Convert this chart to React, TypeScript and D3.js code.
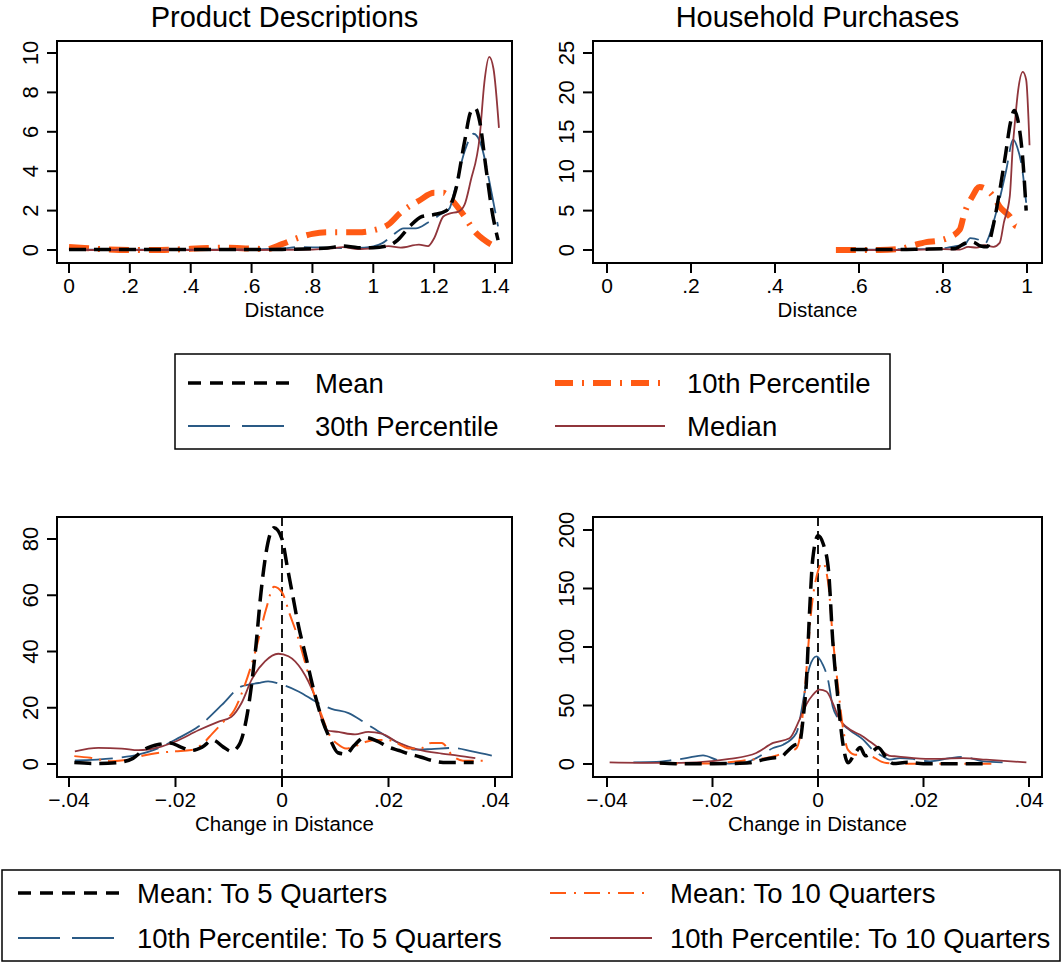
import * as d3 from "d3";

type Pt = [number, number];

// ---- top row: density of distance (x = distance, y = density)
const pdMean: Pt[] = [
  [0, 0.02], [0.2, 0.02], [0.4, 0.02], [0.6, 0.02], [0.7, 0.03], [0.8, 0.06], [0.85, 0.1],
  [0.9, 0.2], [0.95, 0.12], [1.0, 0.12], [1.05, 0.22], [1.08, 0.5], [1.12, 1.2], [1.16, 1.7],
  [1.2, 1.8], [1.24, 2.0], [1.27, 3.0], [1.3, 5.5], [1.32, 7.0], [1.335, 7.2], [1.35, 6.5],
  [1.37, 4.2], [1.39, 2.0], [1.41, 0.5],
];
const pdP10: Pt[] = [
  [0, 0.15], [0.05, 0.1], [0.1, 0.05], [0.2, 0.0], [0.3, 0.0], [0.4, 0.06], [0.5, 0.12],
  [0.58, 0.08], [0.65, 0.05], [0.7, 0.3], [0.75, 0.6], [0.8, 0.82], [0.85, 0.9], [0.9, 0.9],
  [0.95, 0.9], [1.0, 1.0], [1.05, 1.3], [1.09, 1.9], [1.15, 2.5], [1.2, 2.9], [1.23, 2.9],
  [1.26, 2.5], [1.3, 1.7], [1.33, 1.0], [1.37, 0.45], [1.41, 0.1],
];
const pdP30: Pt[] = [
  [0, 0.02], [0.2, 0.02], [0.4, 0.02], [0.6, 0.03], [0.7, 0.08], [0.76, 0.15], [0.82, 0.13],
  [0.9, 0.1], [0.97, 0.12], [1.0, 0.18], [1.03, 0.35], [1.06, 0.7], [1.1, 1.1], [1.14, 1.1],
  [1.18, 1.4], [1.22, 1.8], [1.25, 2.1], [1.27, 3.2], [1.3, 5.0], [1.33, 5.9], [1.355, 5.3],
  [1.38, 3.6], [1.395, 2.4], [1.41, 1.2],
];
const pdMedian: Pt[] = [
  [0, 0.0], [0.2, 0.0], [0.4, 0.0], [0.6, 0.0], [0.8, 0.02], [0.86, 0.08], [0.9, 0.15],
  [0.95, 0.05], [1.0, 0.1], [1.05, 0.2], [1.09, 0.12], [1.15, 0.27], [1.18, 0.2], [1.2, 0.6],
  [1.23, 1.7], [1.25, 1.85], [1.28, 1.95], [1.3, 2.3], [1.32, 3.5], [1.35, 5.8], [1.365, 8.5],
  [1.381, 9.8], [1.395, 9.2], [1.413, 6.2],
];

const hpMean: Pt[] = [
  [0.58, 0.05], [0.65, 0.05], [0.7, 0.05], [0.75, 0.1], [0.8, 0.15], [0.83, 0.2], [0.85, 0.8],
  [0.87, 1.0], [0.89, 0.5], [0.905, 0.4], [0.92, 3.2], [0.935, 7.5], [0.95, 12.5], [0.96, 16],
  [0.97, 17.7], [0.98, 16], [0.99, 11.5], [0.998, 5],
];
const hpP10: Pt[] = [
  [0.545, 0], [0.6, 0], [0.65, 0], [0.7, 0.15], [0.73, 0.6], [0.76, 1.0], [0.79, 1.2],
  [0.81, 1.5], [0.84, 2.6], [0.85, 4.5], [0.87, 6.8], [0.887, 8.0], [0.9, 7.8], [0.92, 6.8],
  [0.935, 5.5], [0.96, 4.2], [0.975, 3.0], [0.99, 3.3],
];
const hpP30: Pt[] = [
  [0.58, 0.05], [0.65, 0.05], [0.7, 0.1], [0.75, 0.1], [0.8, 0.2], [0.83, 0.5], [0.85, 0.6],
  [0.865, 1.5], [0.885, 1.3], [0.9, 0.8], [0.91, 1.8], [0.92, 3.5], [0.935, 6.5], [0.95, 10],
  [0.967, 14], [0.977, 13], [0.988, 10.5], [0.998, 6],
];
const hpMedian: Pt[] = [
  [0.58, 0], [0.65, 0], [0.7, 0], [0.75, 0.05], [0.8, 0.1], [0.84, 0.05], [0.86, 0.4],
  [0.88, 0.3], [0.9, 0.6], [0.92, 0.4], [0.935, 0.9], [0.945, 3.5], [0.959, 6.8], [0.966, 13],
  [0.971, 16.1], [0.979, 20.3], [0.99, 22.6], [0.998, 21.6], [1.006, 13.3],
];

// ---- bottom row: density of change in distance
const dpMean5: Pt[] = [
  [-0.039, 0.5], [-0.035, 0.2], [-0.031, 0.5], [-0.028, 2], [-0.026, 5], [-0.023, 7],
  [-0.021, 7.5], [-0.019, 6], [-0.017, 4.8], [-0.015, 6], [-0.013, 8.5], [-0.011, 6],
  [-0.0095, 4.5], [-0.008, 7], [-0.0065, 18], [-0.005, 40], [-0.004, 60], [-0.003, 75],
  [-0.0015, 84], [0, 80], [0.001, 70], [0.002, 60], [0.003, 50], [0.0045, 38], [0.006, 26],
  [0.0075, 16], [0.009, 9], [0.0105, 4], [0.012, 3.5], [0.0135, 6.5], [0.0155, 9.5],
  [0.018, 8], [0.02, 6], [0.022, 4.8], [0.024, 3.5], [0.026, 2.5], [0.028, 1.3],
  [0.031, 0.5], [0.034, 0.5], [0.036, 0.5],
];
const dpMean10: Pt[] = [
  [-0.039, 2.8], [-0.036, 2.2], [-0.032, 1.0], [-0.029, 1.5], [-0.026, 3], [-0.023, 4],
  [-0.02, 4.5], [-0.017, 5], [-0.015, 7], [-0.013, 11], [-0.011, 15], [-0.009, 19],
  [-0.007, 28], [-0.005, 40], [-0.003, 55], [-0.0015, 63], [0, 61], [0.0015, 53],
  [0.003, 45], [0.0045, 35], [0.006, 25], [0.0075, 17], [0.009, 10], [0.0105, 7],
  [0.012, 5.5], [0.014, 6.5], [0.016, 8], [0.018, 8.5], [0.02, 8.5], [0.022, 7],
  [0.024, 5.5], [0.026, 5.5], [0.028, 7.5], [0.03, 7.5], [0.032, 3], [0.034, 1.2],
  [0.038, 1.2],
];
const dpP10q5: Pt[] = [
  [-0.0389, 1.3], [-0.0314, 2.1], [-0.027, 3.3], [-0.0239, 5.1], [-0.0195, 9.2],
  [-0.0157, 13.3], [-0.0113, 21], [-0.0076, 27.6], [-0.0044, 28.8], [-0.0026, 29.4],
  [0, 28.2], [0.0031, 25.8], [0.0068, 21.7], [0.0093, 19.6], [0.0125, 18.1],
  [0.0156, 14.6], [0.0187, 10.9], [0.0219, 7.5], [0.025, 5.1], [0.028, 5.3],
  [0.0319, 5.7], [0.0357, 4.5], [0.0394, 3],
];
const dpP10q10: Pt[] = [
  [-0.0389, 4.5], [-0.0345, 5.7], [-0.0301, 5.5], [-0.027, 4.9], [-0.0232, 5.9],
  [-0.02, 8], [-0.0157, 12], [-0.012, 15], [-0.0095, 16.8], [-0.0076, 21.7],
  [-0.0057, 30], [-0.0032, 36.5], [-0.0007, 39.2], [0.0012, 38.3], [0.0037, 33.5],
  [0.0062, 24], [0.0084, 12], [0.0106, 11.4], [0.0137, 10.5], [0.0162, 11.4],
  [0.0187, 10.8], [0.0219, 7.5], [0.0256, 5.1], [0.03, 3.7], [0.033, 3], [0.0363, 2.1],
];

const hcMean5: Pt[] = [
  [-0.03, 0.8], [-0.027, 0.3], [-0.024, 0.3], [-0.02, 0.3], [-0.016, 0.5], [-0.013, 1],
  [-0.011, 3], [-0.009, 5], [-0.007, 6], [-0.006, 10], [-0.0045, 16], [-0.0035, 18],
  [-0.0028, 40], [-0.0022, 70], [-0.0016, 130], [-0.001, 175], [0, 195], [0.001, 188],
  [0.002, 165], [0.0028, 105], [0.0038, 55], [0.0047, 18], [0.0057, 1], [0.007, 9],
  [0.008, 14], [0.009, 7], [0.0104, 11], [0.0114, 14], [0.013, 5], [0.0142, 0.5],
  [0.017, 1.4], [0.02, 0.3], [0.025, 0.3], [0.03, 0.3], [0.032, 0.3],
];
const hcMean10: Pt[] = [
  [-0.03, 0.5], [-0.025, 0.3], [-0.02, 0.5], [-0.016, 2], [-0.013, 3.5], [-0.01, 5],
  [-0.008, 7], [-0.0065, 9.5], [-0.005, 11], [-0.004, 14], [-0.0032, 30], [-0.0022, 80],
  [-0.0013, 130], [0, 165], [0.0009, 172], [0.002, 152], [0.0028, 108], [0.0038, 66],
  [0.0047, 32], [0.0057, 12], [0.007, 8], [0.0085, 8], [0.0104, 6], [0.012, 2],
  [0.013, 0.8], [0.016, 0.3], [0.02, 0.3], [0.025, 0.3], [0.03, 0.3], [0.034, 0.3],
];
const hcP10q5: Pt[] = [
  [-0.035, 1.4], [-0.0306, 1.7], [-0.028, 3.1], [-0.025, 5], [-0.0218, 7.4],
  [-0.0193, 3.7], [-0.0167, 0.3], [-0.0142, 0.9], [-0.0117, 5], [-0.0085, 13.7],
  [-0.0066, 16.5], [-0.0041, 26.5], [-0.0025, 62], [-0.0016, 83], [-0.0003, 92],
  [0.0009, 85], [0.0019, 72], [0.0028, 49], [0.0038, 39], [0.006, 29], [0.0085, 21],
  [0.0104, 12], [0.0123, 6.5], [0.0136, 3.7], [0.0155, 5], [0.018, 4.3], [0.0212, 2.3],
  [0.025, 5], [0.0275, 6], [0.0313, 2.3], [0.035, 1.4],
];
const hcP10q10: Pt[] = [
  [-0.0395, 1.4], [-0.029, 0.9], [-0.023, 1.4], [-0.0168, 4.3], [-0.0117, 9.4],
  [-0.0085, 18], [-0.0054, 22], [-0.0035, 38], [-0.0022, 51], [-0.001, 59],
  [0.0003, 63.5], [0.0016, 62], [0.0028, 52], [0.0041, 38], [0.0054, 31.6],
  [0.0085, 23.6], [0.0111, 15], [0.0136, 7], [0.0149, 6.5], [0.0212, 4.3],
  [0.0275, 5], [0.0319, 3.7], [0.0395, 1.4],
];

// ---- ticks
const distTicksA = [0, 0.2, 0.4, 0.6, 0.8, 1, 1.2, 1.4];
const distTicksB = [0, 0.2, 0.4, 0.6, 0.8, 1];
const densTicksA = [0, 2, 4, 6, 8, 10];
const densTicksB = [0, 5, 10, 15, 20, 25];
const chgTicks = [-0.04, -0.02, 0, 0.02, 0.04];
const chgDensA = [0, 20, 40, 60, 80];
const chgDensB = [0, 50, 100, 150, 200];

const topLegend = ["Mean", "10th Percentile", "30th Percentile", "Median"];
const bottomLegend = [
  "Mean: To 5 Quarters",
  "Mean: To 10 Quarters",
  "10th Percentile: To 5 Quarters",
  "10th Percentile: To 10 Quarters",
];

const FONT = "'Liberation Sans', Arial, Helvetica, sans-serif";
const BLACK = "#000";
const ORANGE = "#ff5a14";
const BLUE = "#2a5a85";
const MAROON = "#90353b";

type Style = { color: string; width: number; dash?: string; ldash?: string };

const sMean: Style = { color: BLACK, width: 3.5, dash: "17 8", ldash: "13 9" };
const sP10Top: Style = { color: ORANGE, width: 6, dash: "20 9 2 9", ldash: "18 9 2 9" };
const sP30: Style = { color: BLUE, width: 1.8, dash: "38 9", ldash: "42 12" };
const sMedian: Style = { color: MAROON, width: 1.8 };
const sMean10: Style = { color: ORANGE, width: 2, dash: "18 7 2 7", ldash: "16 8 2 8" };

// Stata style tick labels: 0, .2, 1, 1.2 ; −.04
const fmtNum = (v: number) => {
  if (v === 0) return "0";
  const s = String(+Math.abs(v).toFixed(4)).replace(/^0\./, ".");
  return (v < 0 ? "\u2212" : "") + s;
};

type PanelProps = {
  frame: { x0: number; x1: number; y0: number; y1: number };
  xDomain: [number, number];
  xRange: [number, number];
  yDomain: [number, number];
  yRange: [number, number];
  xTicks: number[];
  yTicks: number[];
  xLabel: string;
  title?: string;
  zeroLine?: boolean;
  series: { data: Pt[]; style: Style }[];
};

function Panel(p: PanelProps) {
  const x = d3.scaleLinear().domain(p.xDomain).range(p.xRange);
  const y = d3.scaleLinear().domain(p.yDomain).range(p.yRange);
  const line = d3
    .line<Pt>()
    .x((d) => x(d[0]))
    .y((d) => y(d[1]))
    .curve(d3.curveMonotoneX);
  const { x0, x1, y0, y1 } = p.frame;
  const cx = (x0 + x1) / 2;
  return (
    <g fontFamily={FONT}>
      {p.title && (
        <text x={cx} y={27} textAnchor="middle" fontSize={29}>
          {p.title}
        </text>
      )}
      {p.zeroLine && (
        <line x1={x(0)} x2={x(0)} y1={y0} y2={y1} stroke="#000" strokeWidth={1.8} strokeDasharray="9 5" />
      )}
      {p.series.map((s, i) => (
        <path
          key={i}
          d={line(s.data) ?? ""}
          fill="none"
          stroke={s.style.color}
          strokeWidth={s.style.width}
          strokeDasharray={s.style.dash}
          strokeLinejoin="round"
        />
      ))}
      <rect x={x0} y={y0} width={x1 - x0} height={y1 - y0} fill="none" stroke="#000" strokeWidth={2} />
      {p.xTicks.map((t) => (
        <g key={"x" + t} transform={`translate(${x(t)},${y1})`}>
          <line y1={0} y2={10} stroke="#000" strokeWidth={2} />
          <text y={30} textAnchor="middle" fontSize={21}>
            {fmtNum(t)}
          </text>
        </g>
      ))}
      {p.yTicks.map((t) => (
        <g key={"y" + t} transform={`translate(${x0},${y(t)})`}>
          <line x1={0} x2={-10} stroke="#000" strokeWidth={2} />
          <text transform="translate(-19,0) rotate(-90)" textAnchor="middle" fontSize={22}>
            {t}
          </text>
        </g>
      ))}
      <text x={cx} y={y1 + 54} textAnchor="middle" fontSize={20.5}>
        {p.xLabel}
      </text>
    </g>
  );
}

function Legend(props: {
  box: { x0: number; x1: number; y0: number; y1: number };
  cols: { sx0: number; sx1: number; tx: number }[];
  rows: number[];
  items: { label: string; style: Style }[];
  fontSize: number;
}) {
  const { box } = props;
  return (
    <g fontFamily={FONT}>
      <rect x={box.x0} y={box.y0} width={box.x1 - box.x0} height={box.y1 - box.y0} fill="#fff" stroke="#000" strokeWidth={1.5} />
      {props.items.map((it, i) => {
        const c = props.cols[i % 2];
        const ry = props.rows[Math.floor(i / 2)];
        return (
          <g key={it.label}>
            <line
              x1={c.sx0}
              x2={c.sx1}
              y1={ry}
              y2={ry}
              stroke={it.style.color}
              strokeWidth={it.style.width}
              strokeDasharray={it.style.ldash}
            />
            <text x={c.tx} y={ry + 10} fontSize={props.fontSize}>
              {it.label}
            </text>
          </g>
        );
      })}
    </g>
  );
}

export default function App() {
  return (
    <svg
      width={1062}
      height={963}
      style={{ position: "absolute", left: 0, top: 0, background: "#fff" }}
    >
      <rect width={1062} height={963} fill="#fff" />
      <Panel
        title="Product Descriptions"
        frame={{ x0: 57, x1: 512, y0: 41, y1: 263 }}
        xDomain={[0, 1.4]}
        xRange={[69, 495]}
        yDomain={[0, 10]}
        yRange={[250, 53]}
        xTicks={distTicksA}
        yTicks={densTicksA}
        xLabel="Distance"
        series={[
          { data: pdP10, style: sP10Top },
          { data: pdP30, style: sP30 },
          { data: pdMedian, style: sMedian },
          { data: pdMean, style: sMean },
        ]}
      />
      <Panel
        title="Household Purchases"
        frame={{ x0: 593, x1: 1042, y0: 41, y1: 263 }}
        xDomain={[0, 1]}
        xRange={[607, 1027]}
        yDomain={[0, 25]}
        yRange={[250, 53]}
        xTicks={distTicksB}
        yTicks={densTicksB}
        xLabel="Distance"
        series={[
          { data: hpP10, style: sP10Top },
          { data: hpP30, style: sP30 },
          { data: hpMedian, style: sMedian },
          { data: hpMean, style: sMean },
        ]}
      />
      <Legend
        box={{ x0: 175, x1: 890, y0: 354, y1: 449 }}
        cols={[
          { sx0: 188, sx1: 292, tx: 315 },
          { sx0: 555, sx1: 665, tx: 687 },
        ]}
        rows={[383, 426]}
        fontSize={27.5}
        items={[
          { label: topLegend[0], style: sMean },
          { label: topLegend[1], style: sP10Top },
          { label: topLegend[2], style: sP30 },
          { label: topLegend[3], style: sMedian },
        ]}
      />
      <Panel
        frame={{ x0: 57, x1: 512, y0: 517, y1: 777 }}
        xDomain={[-0.04, 0.04]}
        xRange={[69, 495]}
        yDomain={[0, 80]}
        yRange={[764, 539]}
        xTicks={chgTicks}
        yTicks={chgDensA}
        xLabel="Change in Distance"
        zeroLine
        series={[
          { data: dpP10q5, style: sP30 },
          { data: dpP10q10, style: sMedian },
          { data: dpMean10, style: sMean10 },
          { data: dpMean5, style: sMean },
        ]}
      />
      <Panel
        frame={{ x0: 593, x1: 1042, y0: 517, y1: 777 }}
        xDomain={[-0.04, 0.04]}
        xRange={[607, 1029]}
        yDomain={[0, 200]}
        yRange={[764, 530]}
        xTicks={chgTicks}
        yTicks={chgDensB}
        xLabel="Change in Distance"
        zeroLine
        series={[
          { data: hcP10q5, style: sP30 },
          { data: hcP10q10, style: sMedian },
          { data: hcMean10, style: sMean10 },
          { data: hcMean5, style: sMean },
        ]}
      />
      <Legend
        box={{ x0: 2, x1: 1060, y0: 870, y1: 961 }}
        cols={[
          { sx0: 18, sx1: 122, tx: 137 },
          { sx0: 550, sx1: 652, tx: 670 },
        ]}
        rows={[893, 938]}
        fontSize={27.5}
        items={[
          { label: bottomLegend[0], style: sMean },
          { label: bottomLegend[1], style: sMean10 },
          { label: bottomLegend[2], style: sP30 },
          { label: bottomLegend[3], style: sMedian },
        ]}
      />
    </svg>
  );
}
